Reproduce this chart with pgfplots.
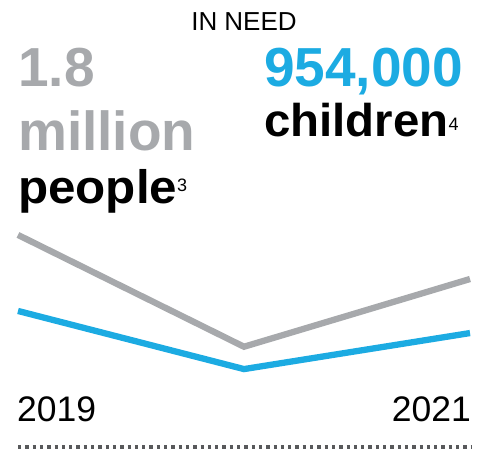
\documentclass[border=0pt]{standalone}
\usepackage{fontspec}
\setmainfont{Liberation Sans}
\usepackage{pgfplots}
\pgfplotsset{compat=1.18}
\definecolor{ugray}{HTML}{A7A9AC}
\definecolor{ublue}{HTML}{1CABE2}
\definecolor{dotgray}{HTML}{58595B}
\newcommand{\fs}[1]{\fontsize{#1bp}{#1bp}\selectfont}
\begin{document}
\begin{tikzpicture}[x=1bp,y=1bp]
\useasboundingbox (0,0) rectangle (486,450);
\begin{axis}[
  at={(18bp,56bp)}, anchor=origin,
  scale only axis, width=452bp, height=159.7bp,
  xmin=2019, xmax=2021, ymin=0, ymax=2.5,
  hide axis, clip=false,
]
\addplot[ugray, line width=6.3bp] coordinates {(2019,2.49) (2020,0.74) (2021,1.80)};
\addplot[ublue, line width=6.3bp] coordinates {(2019,1.30) (2020,0.39) (2021,0.954)};
\end{axis}
% texts (pixel y measured from top)
\node[anchor=base, inner sep=0] at (244,450-31) {\fs{26}IN NEED};
\node[anchor=base west, inner sep=0, text=ugray] at (18,450-87) {\fs{55}\bfseries 1.8};
\node[anchor=base west, inner sep=0, text=ugray] at (18,450-151) {\fs{55}\bfseries million};
\node[anchor=base west, inner sep=0] at (18,450-204) {\scalebox{1.05}[1]{\fs{47}\bfseries people}\raisebox{12bp}{\fs{18}3}};
\node[anchor=base west, inner sep=0, text=ublue] at (264,450-87) {\fs{55}\bfseries 954,000};
\node[anchor=base west, inner sep=0] at (264,450-137) {\scalebox{1.03}[1]{\fs{46}\bfseries children}\raisebox{6bp}{\fs{18}4}};
\node[anchor=base west, inner sep=0] at (17,450-422) {\fs{35.5}2019};
\node[anchor=base east, inner sep=0] at (471,450-422) {\fs{35.5}2021};
\draw[dotgray, line width=3.5bp, dash pattern=on 3.3bp off 4bp] (18,3) -- (471,3);
\end{tikzpicture}
\end{document}
